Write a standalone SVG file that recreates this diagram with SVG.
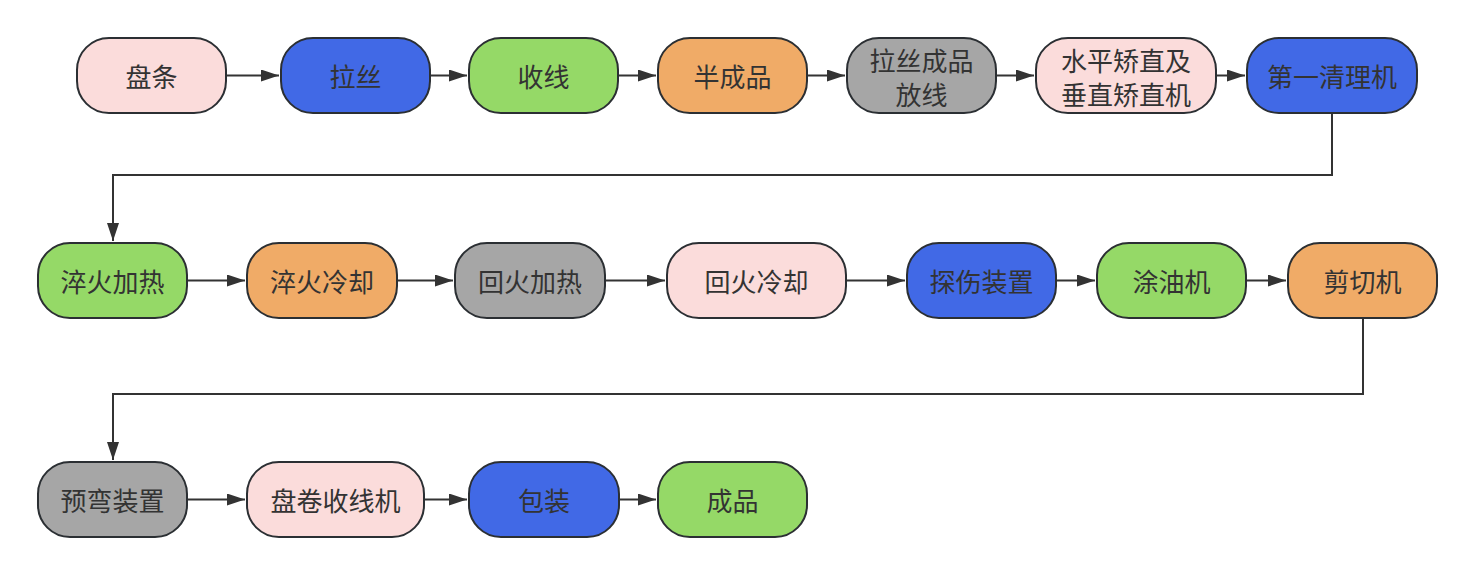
<svg xmlns="http://www.w3.org/2000/svg" width="1475" height="574" viewBox="0 0 1475 574">
<defs>
<style>
.n rect{stroke:#2b2f33;stroke-width:2;}
.n text{font-family:"Noto Sans CJK SC","Noto Sans",sans-serif;font-size:26px;fill:#333;text-anchor:middle;dominant-baseline:central;}
.pk{fill:#fbdcdb}.bl{fill:#4169e6}.gr{fill:#95d967}.or{fill:#f0ab67}.gy{fill:#a6a6a6}
.c path{fill:none;stroke:#333;stroke-width:2;marker-end:url(#ah);}
</style>
<marker id="ah" viewBox="0 0 18 12" refX="18" refY="6" markerWidth="18" markerHeight="12" markerUnits="userSpaceOnUse" orient="auto"><path d="M0,0L18,6L0,12z" fill="#333"/></marker>
</defs>
<rect width="1475" height="574" fill="#fff"/>
<g class="c">
<path d="M226,75.5H279"/>
<path d="M430,75.5H467"/>
<path d="M618,75.5H656"/>
<path d="M807,75.5H845"/>
<path d="M996,75.5H1034"/>
<path d="M1216,75.5H1245"/>
<path d="M1332,113V175H113V241"/>
<path d="M187,280.5H245"/>
<path d="M397,280.5H453"/>
<path d="M605,280.5H665"/>
<path d="M846,280.5H905"/>
<path d="M1056,280.5H1095"/>
<path d="M1246,280.5H1286"/>
<path d="M1363,318V394H113V460"/>
<path d="M187,499.5H245"/>
<path d="M424,499.5H467"/>
<path d="M619,499.5H656"/>
</g>
<g id="n1" class="n"><rect class="pk" x="77" y="38" width="149" height="75" rx="32"/><text x="151.5" y="75.5">盘条</text></g>
<g id="n2" class="n"><rect class="bl" x="281" y="38" width="149" height="75" rx="32"/><text x="355.5" y="75.5">拉丝</text></g>
<g id="n3" class="n"><rect class="gr" x="469" y="38" width="149" height="75" rx="32"/><text x="543.5" y="75.5">收线</text></g>
<g id="n4" class="n"><rect class="or" x="658" y="38" width="149" height="75" rx="32"/><text x="732.5" y="75.5">半成品</text></g>
<g id="n5" class="n"><rect class="gy" x="847" y="38" width="149" height="75" rx="32"/><text x="921.5" y="59">拉丝成品</text><text x="921.5" y="93">放线</text></g>
<g id="n6" class="n"><rect class="pk" x="1036" y="38" width="180" height="75" rx="32"/><text x="1126" y="59">水平矫直及</text><text x="1126" y="93">垂直矫直机</text></g>
<g id="n7" class="n"><rect class="bl" x="1247" y="38" width="170" height="75" rx="32"/><text x="1332" y="75.5">第一清理机</text></g>
<g id="n8" class="n"><rect class="gr" x="38" y="243" width="149" height="75" rx="32"/><text x="112.5" y="280.5">淬火加热</text></g>
<g id="n9" class="n"><rect class="or" x="247" y="243" width="150" height="75" rx="32"/><text x="322" y="280.5">淬火冷却</text></g>
<g id="n10" class="n"><rect class="gy" x="455" y="243" width="150" height="75" rx="32"/><text x="530" y="280.5">回火加热</text></g>
<g id="n11" class="n"><rect class="pk" x="667" y="243" width="179" height="75" rx="32"/><text x="756.5" y="280.5">回火冷却</text></g>
<g id="n12" class="n"><rect class="bl" x="907" y="243" width="149" height="75" rx="32"/><text x="981.5" y="280.5">探伤装置</text></g>
<g id="n13" class="n"><rect class="gr" x="1097" y="243" width="149" height="75" rx="32"/><text x="1171.5" y="280.5">涂油机</text></g>
<g id="n14" class="n"><rect class="or" x="1288" y="243" width="149" height="75" rx="32"/><text x="1362.5" y="280.5">剪切机</text></g>
<g id="n15" class="n"><rect class="gy" x="38" y="462" width="149" height="75" rx="32"/><text x="112.5" y="499.5">预弯装置</text></g>
<g id="n16" class="n"><rect class="pk" x="247" y="462" width="177" height="75" rx="32"/><text x="335.5" y="499.5">盘卷收线机</text></g>
<g id="n17" class="n"><rect class="bl" x="469" y="462" width="150" height="75" rx="32"/><text x="544" y="499.5">包装</text></g>
<g id="n18" class="n"><rect class="gr" x="658" y="462" width="149" height="75" rx="32"/><text x="732.5" y="499.5">成品</text></g>
</svg>
